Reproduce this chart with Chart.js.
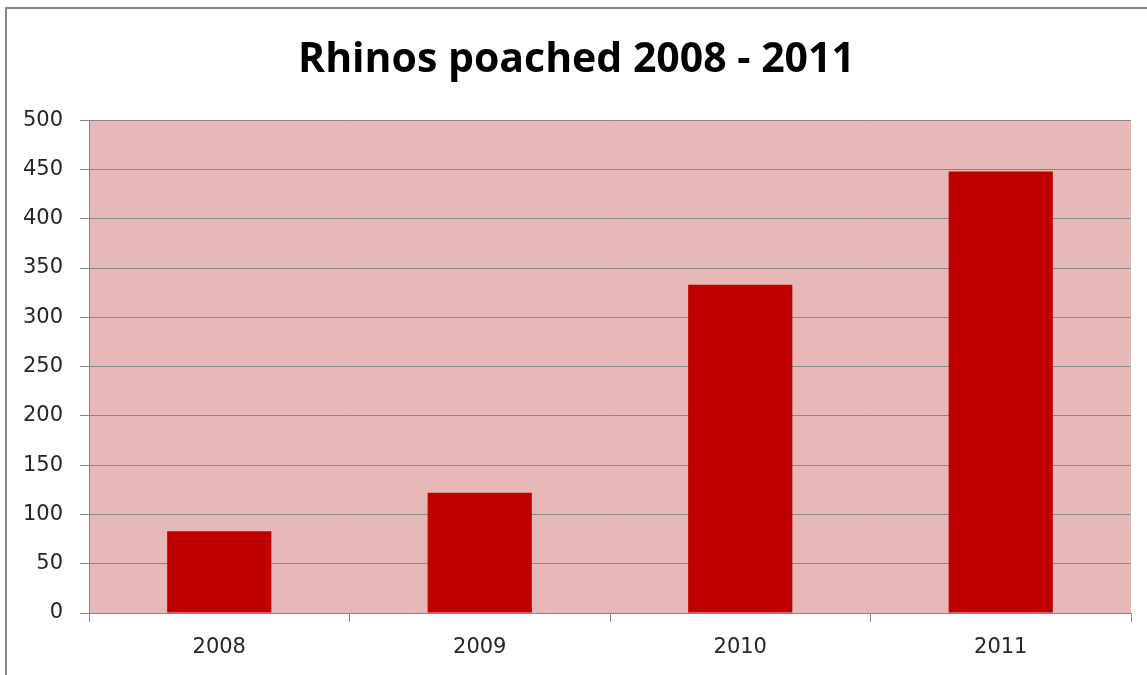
<!DOCTYPE html>
<html>
<head>
<meta charset="utf-8">
<script src="https://cdn.jsdelivr.net/npm/chart.js@4.4.0/dist/chart.umd.min.js"></script>
<style>
html,body{margin:0;padding:0;background:#fff;}
#wrap{position:relative;width:1147px;height:675px;}
</style>
</head>
<body>
<div id="wrap"><canvas id="c" width="1147" height="675"></canvas></div>
<script>
const categories = ["2008", "2009", "2010", "2011"];
const rhinosPoached = [83, 122, 333, 448];
const yTicks = [0, 50, 100, 150, 200, 250, 300, 350, 400, 450, 500];
const chartTitle = "Rhinos poached 2008 - 2011";

const bgPlugin = {
  id: 'bg',
  beforeDraw(chart) {
    const {ctx, chartArea: a} = chart;
    ctx.save();
    ctx.fillStyle = '#fff';
    ctx.fillRect(0, 0, chart.width, chart.height);
    ctx.fillStyle = '#E6B9B8';
    ctx.fillRect(a.left, a.top, a.right - a.left, a.bottom - a.top);
    ctx.strokeStyle = '#888888';
    ctx.lineWidth = 2;
    ctx.strokeRect(6, 8, chart.width + 20, chart.height + 20);
    ctx.restore();
  }
};

new Chart(document.getElementById('c'), {
  type: 'bar',
  data: {
    labels: categories,
    datasets: [{
      data: rhinosPoached,
      backgroundColor: '#C00000',
      borderWidth: 0,
      categoryPercentage: 1,
      barPercentage: 0.4
    }]
  },
  plugins: [bgPlugin],
  options: {
    responsive: false,
    animation: false,
    devicePixelRatio: 1,
    layout: {padding: {left: 22, right: 16, top: 20, bottom: 0}},
    plugins: {
      legend: {display: false},
      tooltip: {enabled: false},
      title: {
        display: true,
        text: chartTitle,
        color: '#000',
        font: {family: 'Open Sans', weight: 'bold', size: 41},
        padding: {top: 16, bottom: 35}
      }
    },
    scales: {
      x: {
        grid: {display: true, drawOnChartArea: false, offset: true, color: '#888888', tickLength: 9, lineWidth: 1},
        border: {display: true, color: '#888888', width: 1},
        ticks: {color: '#262626', font: {family: 'DejaVu Sans', size: 21}, padding: 13},
        afterFit(s) { s.height = 62; }
      },
      y: {
        min: 0, max: 500,
        afterBuildTicks(s) { s.ticks = yTicks.map(v => ({value: v})); },
        grid: {color: '#888888', tickLength: 9, lineWidth: 1},
        border: {display: true, color: '#888888', width: 1},
        ticks: {color: '#262626', font: {family: 'DejaVu Sans', size: 21}, padding: 17},
        afterFit(s) { s.width = 67; }
      }
    }
  }
});
</script>
</body>
</html>
